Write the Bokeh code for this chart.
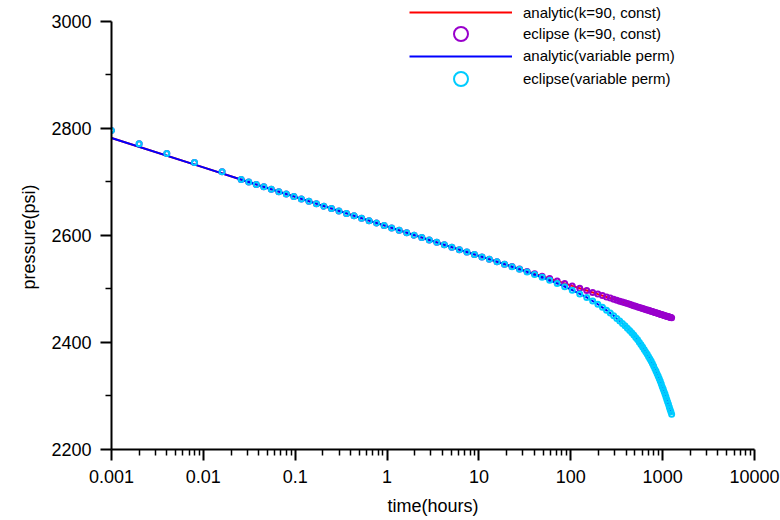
from bokeh.plotting import figure
from bokeh.models import Range1d, FixedTicker, CustomJSTickFormatter, Legend, LegendItem, Title
from bokeh.embed import file_html
from bokeh.resources import INLINE

FONT = "Liberation Sans"

# ---- data ----
eclipse_t = [0.001, 0.002, 0.004, 0.008, 0.016,
             0.0258, 0.0312, 0.0377, 0.0455, 0.0549, 0.0663, 0.0800, 0.0967, 0.1167, 0.1410,
             0.1702, 0.2055, 0.2482, 0.2997, 0.3619, 0.4370, 0.5277, 0.6372, 0.7694, 0.9292,
             1.122, 1.355, 1.636, 1.976, 2.386, 2.881, 3.479, 4.201, 5.073, 6.126,
             7.396, 8.931, 10.79, 13.02, 15.73, 18.99, 22.93, 27.69, 33.44, 40.37,
             48.75, 58.87, 71.09, 85.84, 103.7, 125.2,
             149.2, 173.2, 197.2, 221.2, 245.2, 269.2, 293.2, 317.2, 341.2, 365.2,
             389.2, 413.2, 437.2, 461.2, 485.2, 509.2, 533.2, 557.2, 581.2, 605.2,
             629.2, 653.2, 677.2, 701.2, 725.2, 749.2, 773.2, 797.2, 821.2, 845.2,
             869.2, 893.2, 917.2, 941.2, 965.2, 989.2, 1013.2, 1037.2, 1061.2, 1085.2,
             1109.2, 1133.2, 1157.2, 1181.2, 1205.2, 1229.2, 1253.2]

eclipse_const_p = [2796, 2771, 2753, 2736, 2719,
                   2704.2, 2699.7, 2695.2, 2690.7, 2686.1, 2681.6, 2677.1, 2672.6, 2668.1, 2663.6,
                   2659.1, 2654.6, 2650.0, 2645.5, 2641.0, 2636.5, 2632.0, 2627.5, 2623.0, 2618.5,
                   2613.9, 2609.4, 2604.9, 2600.4, 2595.9, 2591.4, 2586.9, 2582.4, 2577.8, 2573.3,
                   2568.8, 2564.3, 2559.8, 2555.3, 2550.8, 2546.2, 2541.7, 2537.2, 2532.7, 2528.2,
                   2523.7, 2519.2, 2514.7, 2510.1, 2505.6, 2501.1,
                   2497.0, 2493.4, 2490.3, 2487.5, 2485.0, 2482.8, 2480.8, 2478.9, 2477.1, 2475.5,
                   2474.0, 2472.5, 2471.2, 2469.9, 2468.7, 2467.5, 2466.4, 2465.4, 2464.4, 2463.4,
                   2462.5, 2461.6, 2460.7, 2459.9, 2459.1, 2458.3, 2457.6, 2456.8, 2456.1, 2455.4,
                   2454.8, 2454.1, 2453.5, 2452.8, 2452.2, 2451.7, 2451.1, 2450.5, 2450.0, 2449.4,
                   2448.9, 2448.4, 2447.9, 2447.4, 2446.9, 2446.5, 2446.0]

eclipse_var_p = [2796, 2771, 2753, 2736, 2719,
                 2704.2, 2699.7, 2695.2, 2690.7, 2686.1, 2681.6, 2677.1, 2672.6, 2668.1, 2663.6,
                 2659.1, 2654.6, 2650.0, 2645.5, 2641.0, 2636.5, 2632.0, 2627.5, 2623.0, 2618.5,
                 2613.9, 2609.4, 2604.9, 2600.4, 2595.9, 2591.4, 2586.9, 2582.4, 2577.8, 2573.3,
                 2568.8, 2564.3, 2559.8, 2555.3, 2550.8, 2546.2, 2541.4, 2536.7, 2531.7, 2526.7,
                 2521.7, 2516.2, 2510.2, 2504.1, 2497.6, 2490.6,
                 2484.0, 2477.4, 2471.3, 2465.5, 2460.0, 2454.8, 2449.8, 2444.9, 2440.1, 2435.5,
                 2431.0, 2426.5, 2422.2, 2417.9, 2413.7, 2409.0, 2404.9, 2400.4, 2395.9, 2391.4,
                 2387.0, 2382.6, 2378.2, 2373.9, 2369.6, 2365.3, 2360.6, 2355.8, 2351.1, 2346.4,
                 2341.8, 2337.1, 2332.5, 2327.8, 2322.7, 2317.7, 2313.1, 2308.5, 2303.5, 2298.4,
                 2293.4, 2288.9, 2284.4, 2279.4, 2274.9, 2270.5, 2266.0]

analytic_t = [0.001, 0.01, 0.1, 1, 10, 22.93, 33.44, 48.75, 71.09, 103.7, 149.2, 197.2, 245.2,
              293.2, 365.2, 437.2, 509.2, 581.2, 653.2, 725.2, 797.2, 869.2, 941.2, 1013.2,
              1085.2, 1157.2, 1229.2, 1253.2]
analytic_const_p = [2782.0, 2726.9, 2671.8, 2616.7, 2561.6, 2541.7, 2532.7, 2523.7, 2514.7, 2505.6,
                    2497.0, 2490.3, 2485.0, 2480.8, 2475.5, 2471.2, 2467.5, 2464.4, 2461.6, 2459.1,
                    2456.8, 2454.8, 2452.8, 2451.1, 2449.4, 2447.9, 2446.5, 2446.0]
analytic_var_p = [2782.0, 2726.9, 2671.8, 2616.7, 2561.6, 2541.4, 2531.7, 2521.7, 2510.2, 2497.6,
                  2484.0, 2471.3, 2460.0, 2449.8, 2435.5, 2422.2, 2409.0, 2395.9, 2382.6, 2369.6,
                  2355.8, 2341.8, 2327.8, 2313.1, 2298.4, 2284.4, 2270.5, 2266.0]

x_ticks = [0.001, 0.01, 0.1, 1, 10, 100, 1000, 10000]
y_ticks = [2200, 2400, 2600, 2800, 3000]
y_minor = [2300, 2500, 2700, 2900]
series_labels = ["analytic(k=90, const)", "eclipse (k=90, const)",
                 "analytic(variable perm)", "eclipse(variable perm)"]

# ---- figure ----
# frame reaches the canvas top so the legend (which sits above 3000) is not clipped;
# the y axis itself is bounded to 2200..3000
p = figure(width=780, height=520, x_axis_type="log",
           x_range=Range1d(0.001, 10000), y_range=Range1d(2200, 3038.7),
           output_backend="svg", toolbar_location=None,
           min_border_left=111, min_border_right=26, min_border_top=0, min_border_bottom=71)
p.outline_line_color = None
p.xgrid.visible = False
p.ygrid.visible = False
p.background_fill_color = "white"
p.border_fill_color = "white"

r1 = p.line(analytic_t, analytic_const_p, line_color="#FF0000", line_width=2)
r2 = p.scatter(eclipse_t, eclipse_const_p, marker="circle", size=5, fill_color=None,
               line_color="#9900CC", line_width=2)
r3 = p.line(analytic_t, analytic_var_p, line_color="#0000FF", line_width=2)
r4 = p.scatter(eclipse_t, eclipse_var_p, marker="circle", size=5, fill_color=None,
               line_color="#00CCFF", line_width=2)

# one single-row legend per entry, so that rows can sit closer than the marker box height
legend_rows = [(r1, 20, 426.7), (r2, 35, 398.2), (r3, 20, 383.3), (r4, 35, 353.2)]
for (rend, gh, vy), lab in zip(legend_rows, series_labels):
    lg = Legend(items=[LegendItem(label=lab, renderers=[rend])],
                location=(298, vy), orientation="vertical",
                glyph_width=103, glyph_height=gh, label_height=20, spacing=0,
                padding=0, margin=0, label_standoff=11,
                border_line_color=None, background_fill_alpha=0,
                label_text_font=FONT, label_text_font_size="15px", label_text_color="black")
    p.add_layout(lg)

x_minor = [m * 10.0 ** e for e in range(-3, 4) for m in range(2, 10)]
p.xaxis.ticker = FixedTicker(ticks=x_ticks, minor_ticks=x_minor)
p.xaxis.formatter = CustomJSTickFormatter(code="return String(Number(tick.toPrecision(6)));")
p.yaxis.ticker = FixedTicker(ticks=y_ticks, minor_ticks=y_minor)
p.yaxis.bounds = (2200, 3000)

for ax in (p.xaxis[0], p.yaxis[0]):
    ax.axis_line_width = 2
    ax.axis_line_color = "black"
    ax.major_tick_in = 0
    ax.major_tick_out = 11
    ax.minor_tick_in = 0
    ax.minor_tick_out = 6
    ax.major_tick_line_width = 2
    ax.minor_tick_line_width = 1.5
    ax.major_tick_line_color = "black"
    ax.minor_tick_line_color = "black"
    ax.major_label_text_font = FONT
    ax.major_label_text_font_size = "18px"
    ax.major_label_text_color = "black"
    ax.major_label_standoff = 9
    ax.axis_label_text_font = FONT
    ax.axis_label_text_font_size = "18px"
    ax.axis_label_text_font_style = "normal"
    ax.axis_label_text_color = "black"
    ax.axis_label_standoff = 10

p.xaxis.axis_label = "time(hours)"

# y-axis title as a side-panel title, so it can sit slightly below the frame centre
ytitle = Title(text="pressure(psi)", align="left", offset=160, standoff=20,
               text_font=FONT, text_font_size="18px", text_font_style="normal",
               text_color="black")
p.add_layout(ytitle, "left")

open("out.html", "w").write(file_html(p, INLINE))
